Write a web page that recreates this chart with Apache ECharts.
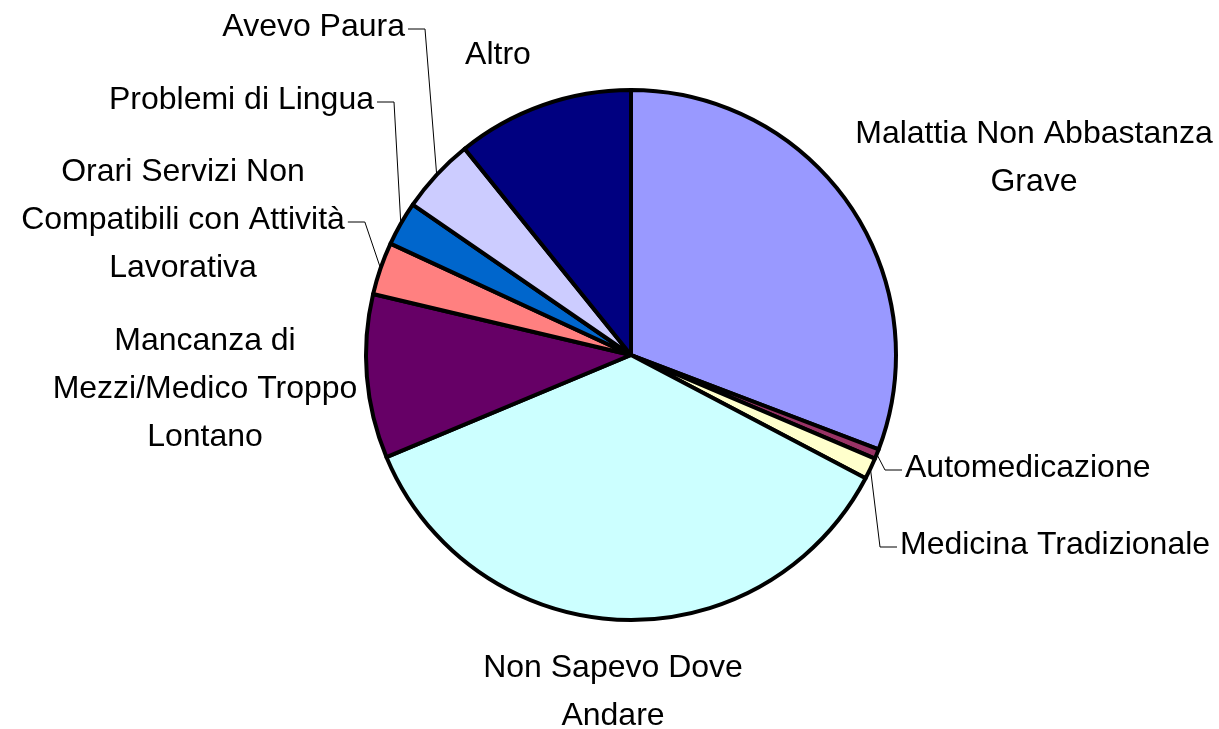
<!DOCTYPE html>
<html lang="it">
<head>
<meta charset="UTF-8">
<title>Motivi del mancato ricorso alle cure</title>
<script src="https://cdn.jsdelivr.net/npm/echarts@6/dist/echarts.min.js"></script>
<style>
    html, body { margin: 0; padding: 0; background: #fff; }
    #main { width: 1219px; height: 729px; }
</style>
</head>
<body>
<div id="main"></div>
<script type="text/javascript">
    // dati (percentuali)
    var categories = ['Malattia Non Abbastanza Grave', 'Automedicazione', 'Medicina Tradizionale',
        'Non Sapevo Dove Andare', 'Mancanza di Mezzi/Medico Troppo Lontano',
        'Orari Servizi Non Compatibili con Attività Lavorativa', 'Problemi di Lingua', 'Avevo Paura', 'Altro'];
    var values = [30.8, 0.6, 1.3, 36.0, 10.0, 3.2, 2.7, 4.6, 10.8];
    // testo delle etichette con gli a capo
    var labelTexts = ['Malattia Non Abbastanza\nGrave', 'Automedicazione', 'Medicina Tradizionale',
        'Non Sapevo Dove\nAndare', 'Mancanza di\nMezzi/Medico Troppo\nLontano',
        'Orari Servizi Non\nCompatibili con Attività\nLavorativa', 'Problemi di Lingua', 'Avevo Paura', 'Altro'];

    var colors = ['#9999FF', '#993366', '#FFFFCC', '#CCFFFF', '#660066', '#FF8080', '#0066CC', '#CCCCFF', '#000080'];
    // posizione etichette: x, y, allineamento
    var labelSpots = [
        [1034, 158, 'center'],
        [905, 468, 'left'],
        [900, 545, 'left'],
        [613, 692, 'center'],
        [205, 389, 'center'],
        [183, 220, 'center'],
        [374, 100, 'right'],
        [405, 27, 'right'],
        [498, 55, 'center']
    ];
    var withLine = [false, true, true, false, false, true, true, true, false];

    var pieData = [];
    for (var i = 0; i < categories.length; i++) {
        pieData.push({
            name: categories[i],
            value: values[i],
            itemStyle: { color: colors[i] },
            labelLine: { show: withLine[i] }
        });
    }

    var chart = echarts.init(document.getElementById('main'));
    chart.setOption({
        backgroundColor: '#ffffff',
        animation: false,
        series: [{
            type: 'pie',
            center: [631, 355],
            radius: 265,
            startAngle: 90,
            clockwise: true,
            avoidLabelOverlap: false,
            data: pieData,
            itemStyle: { borderColor: '#000', borderWidth: 4 },
            label: {
                show: true,
                position: 'outside',
                color: '#000',
                fontFamily: '"Liberation Sans", Arial, sans-serif',
                fontSize: 32,
                lineHeight: 48,
                formatter: function (p) { return labelTexts[p.dataIndex]; }
            },
            labelLine: {
                lineStyle: { color: '#000', width: 1 }
            },
            labelLayout: function (p) {
                var s = labelSpots[p.dataIndex];
                var out = { x: s[0], y: s[1], align: s[2], verticalAlign: 'middle' };
                if (withLine[p.dataIndex]) {
                    var edge = s[0], dir = 1;
                    if (s[2] == 'left') { dir = -1; }
                    else if (s[2] == 'center') { edge = s[0] + p.labelRect.width / 2; }
                    out.labelLinePoints = [
                        p.labelLinePoints[0],
                        [edge + dir * 20, s[1] + 2],
                        [edge + dir * 3, s[1] + 2]
                    ];
                }
                return out;
            }
        }]
    });
</script>
</body>
</html>
